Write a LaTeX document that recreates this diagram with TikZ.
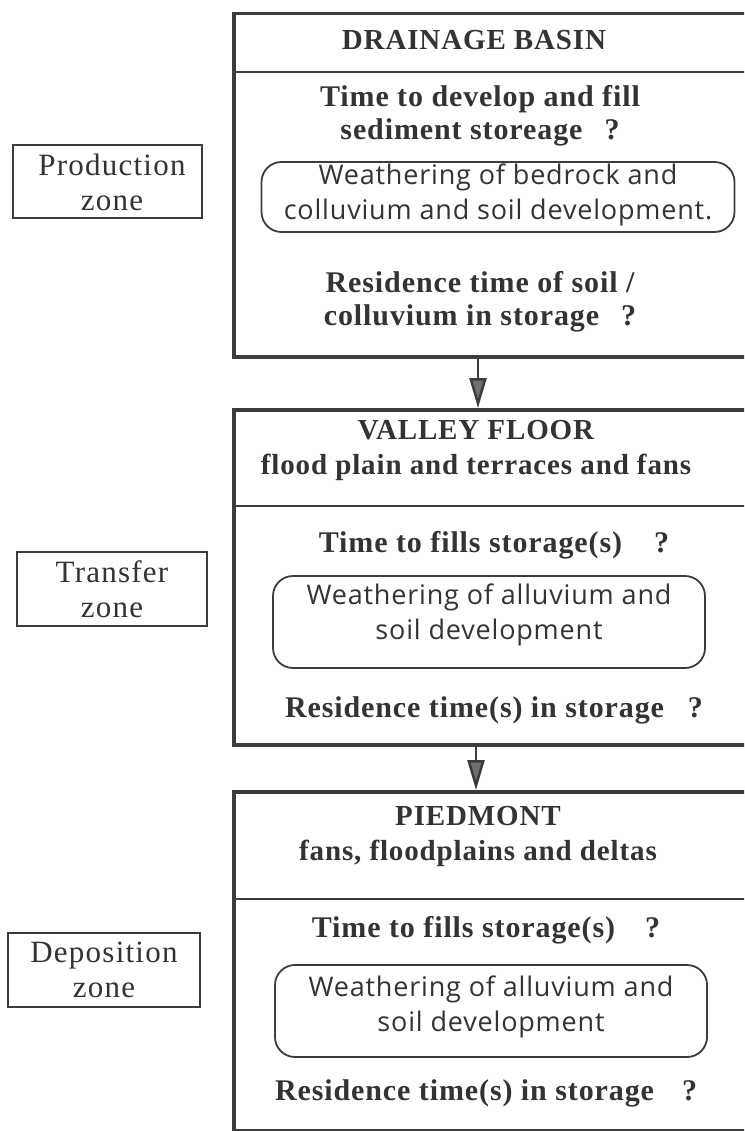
\documentclass[tikz,border=0pt]{standalone}
\usepackage{fontspec}
\setmainfont{Liberation Serif}
\newfontfamily\rbfont[LetterSpace=3]{Open Sans}
\newfontfamily\bsfont[LetterSpace=3]{Liberation Serif}
\newfontfamily\zfont[LetterSpace=4]{Liberation Serif}
\usetikzlibrary{arrows.meta,calc}
\definecolor{ink}{HTML}{333333}
\definecolor{edge}{HTML}{3C3C3C}
\definecolor{arrowgray}{HTML}{707070}
\tikzset{
  bigbox/.style={draw=edge, line width=3.5pt, anchor=north west, inner sep=0pt, minimum width=560pt},
  divider/.style={draw=edge, line width=2pt},
  roundbox/.style={draw=edge, line width=1.8pt, rounded corners=20pt, inner sep=0pt},
  zonebox/.style={draw=edge, line width=1.5pt, inner sep=0pt},
  headtxt/.style={text=ink, align=center, font=\bsfont\fontsize{29}{35}\selectfont\bfseries},
  boldtxt/.style={text=ink, align=center, font=\bsfont\fontsize{30}{33}\selectfont\bfseries},
  sanstxt/.style={text=ink, align=center, font=\rbfont\fontsize{27}{35}\selectfont},
  zonetxt/.style={text=ink, align=center, font=\zfont\fontsize{31}{35}\selectfont},
  flow/.style={draw=edge, line width=2.5pt, -{Triangle[length=30pt,width=17pt,fill=arrowgray]}}
}
\begin{document}
\begin{tikzpicture}[x=1pt,y=-1pt]
\useasboundingbox (0,0) rectangle (744,1131);
\clip (0,0) rectangle (744,1131);
\fill[white] (0,0) rectangle (744,1131);

% ---- big boxes
\node[bigbox, minimum height=343pt] (b1) at (232,12) {};
\node[bigbox, minimum height=335pt] (b2) at (232,408) {};
\node[bigbox, minimum height=339pt] (b3) at (232,790) {};

\draw[divider] (232,72) -- (760,72);
\draw[divider] (232,506) -- (760,506);
\draw[divider] (232,899) -- (760,899);

% ---- connectors
\draw[flow] ($(b1.south west)+(246,0)$) -- ($(b2.north west)+(246,0)$);
\draw[flow] ($(b2.south west)+(244,0)$) -- ($(b3.north west)+(244,0)$);

% ---- box 1
\node[headtxt] (h1) at (474,40) {DRAINAGE BASIN};
\node[boldtxt] (q1) at (480,116) {Time to develop and fill\\sediment storeage\hspace{22pt}?};
\node[roundbox, minimum width=473pt, minimum height=70pt] (r1) at (498,197) {};
\node[sanstxt] (w1) at (498,195) {Weathering of bedrock and\\colluvium and soil development.};
\node[boldtxt] (s1) at (480,302) {Residence time of soil /\\colluvium in storage\hspace{22pt}?};

% ---- box 2
\node[headtxt] (h2) at (476,450) {VALLEY FLOOR\\flood plain and terraces and fans};
\node[boldtxt] (q2) at (494,545) {Time to fills storage(s)\hspace{32pt}?};
\node[roundbox, minimum width=432pt, minimum height=92pt] (r2) at (489,622) {};
\node[sanstxt] (w2) at (489,615) {Weathering of alluvium and\\soil development};
\node[boldtxt] (s2) at (494,710) {Residence time(s) in storage\hspace{24pt}?};

% ---- box 3
\node[headtxt] (h3) at (478,836) {PIEDMONT\\fans, floodplains and deltas};
\node[boldtxt] (q3) at (486,930) {Time to fills storage(s)\hspace{30pt}?};
\node[roundbox, minimum width=432pt, minimum height=92pt] (r3) at (491,1011) {};
\node[sanstxt] (w3) at (491,1007) {Weathering of alluvium and\\soil development};
\node[boldtxt] (s3) at (486,1093) {Residence time(s) in storage\hspace{28pt}?};

% ---- zone labels
\node[zonebox, minimum width=189pt, minimum height=73pt] (z1) at (107.5,181.5) {};
\node[zonetxt] (zt1) at (112,182) {Production\\zone};
\node[zonebox, minimum width=190pt, minimum height=74pt] (z2) at (112,589) {};
\node[zonetxt] (zt2) at (112,589) {Transfer\\zone};
\node[zonebox, minimum width=192pt, minimum height=74pt] (z3) at (104,970) {};
\node[zonetxt] (zt3) at (104,970) {Deposition\\zone};
\end{tikzpicture}
\end{document}
